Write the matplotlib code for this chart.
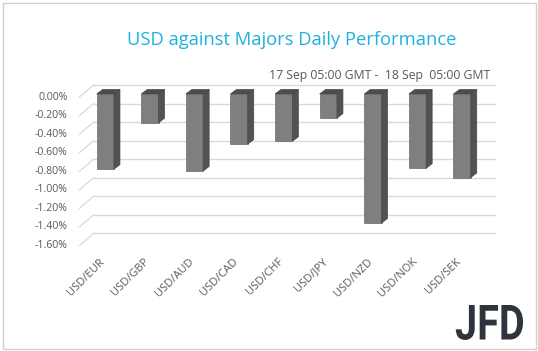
import numpy as np
import matplotlib.pyplot as plt
from matplotlib.patches import Polygon, Rectangle, PathPatch
from matplotlib.textpath import TextPath
from matplotlib.font_manager import FontProperties
from matplotlib.path import Path

# Data (percent change)
pairs = ['USD/EUR', 'USD/GBP', 'USD/AUD', 'USD/CAD', 'USD/CHF',
         'USD/JPY', 'USD/NZD', 'USD/NOK', 'USD/SEK']
changes = [-0.81, -0.31, -0.83, -0.54, -0.51, -0.26, -1.39, -0.80, -0.90]
tick_values = [0.0, -0.2, -0.4, -0.6, -0.8, -1.0, -1.2, -1.4, -1.6]
tick_labels = ['0.00%', '-0.20%', '-0.40%', '-0.60%', '-0.80%',
               '-1.00%', '-1.20%', '-1.40%', '-1.60%']

title = 'USD against Majors Daily Performance'
subtitle = '17 Sep 05:00 GMT -  18 Sep  05:00 GMT'

W, H = 538, 351
fig = plt.figure(figsize=(W / 100, H / 100), dpi=100)
ax = fig.add_axes([0, 0, 1, 1])
ax.set_axis_off()

# scale: 44.6 px per category, 92.8 px per 1 %
px_x, px_y = 44.6, 92.8
x0, y0 = 105.3, 94.0
ax.set_xlim(-x0 / px_x, (W - x0) / px_x)
ax.set_ylim((y0 - H) / px_y, y0 / px_y)

font = 'Open Sans'
grey_txt = '#595959'
grid_c = '#d9d9d9'

# 3D offsets (data units)
bar_w = 17.3 / px_x
bar_dx, bar_dy = 6 / px_x, 4.5 / px_y
back_dx, back_dy = 10.5 / px_x, 9 / px_y
front_dx, front_dy = -3.5 / px_x, -3 / px_y
x_right = (495 - x0) / px_x

# back wall gridlines and side-wall diagonals
for v in tick_values:
    ax.plot([front_dx - 0.5, back_dx - 0.5], [v + front_dy, v + back_dy],
            color=grid_c, lw=0.9, zorder=1)
    ax.plot([back_dx - 0.5, x_right], [v + back_dy, v + back_dy],
            color=grid_c, lw=1.0, zorder=1)

# y tick labels
for v, lab in zip(tick_values, tick_labels):
    ax.text((67.5 - x0) / px_x, v + front_dy, lab, ha='right', va='center',
            fontsize=7.6, color=grey_txt, family=font)

# 3D bars
for i, v in enumerate(changes):
    l, r = i - bar_w / 2, i + bar_w / 2
    ax.add_patch(Rectangle((l, v), bar_w, -v, facecolor='#7f7f7f',
                           edgecolor='#6a6a6a', lw=0.5, zorder=3))
    side = [(r, 0), (r + bar_dx, bar_dy), (r + bar_dx, v + bar_dy), (r, v)]
    ax.add_patch(Polygon(side, closed=True, facecolor='#525252',
                         edgecolor='#4a4a4a', lw=0.5, zorder=3))
    top = [(l, 0), (r, 0), (r + bar_dx, bar_dy), (l + bar_dx, bar_dy)]
    ax.add_patch(Polygon(top, closed=True, facecolor='#4d4d4d',
                         edgecolor='#474747', lw=0.5, zorder=3))

# category labels
for i, lab in enumerate(pairs):
    ax.text(i - 0.05, -1.79, lab, ha='right', va='center', rotation=45,
            rotation_mode='anchor', fontsize=8.0, color=grey_txt, family=font)

fig.text(292 / W, 1 - 40 / H, title, ha='center', va='center',
         fontsize=13.2, color='#1fb1e0', family=font)
fig.text(490 / W, 1 - 75 / H, subtitle, ha='right', va='center',
         fontsize=8.8, color=grey_txt, family=font)

# logo, stretched to fit its box (pixels: x 455-523, y 305-340 from top)
tp = TextPath((0, 0), 'JFD', size=1,
              prop=FontProperties(family='Roboto', weight='bold'))
verts = tp.vertices.copy()
mn, mx = verts.min(axis=0), verts.max(axis=0)
box_l, box_r, box_t, box_b = 455, 523, 305, 340
verts[:, 0] = (box_l + (verts[:, 0] - mn[0]) / (mx[0] - mn[0]) * (box_r - box_l)) / W
verts[:, 1] = (H - box_b + (verts[:, 1] - mn[1]) / (mx[1] - mn[1]) * (box_b - box_t)) / H
fig.patches.append(PathPatch(Path(verts, tp.codes), transform=fig.transFigure,
                             facecolor='#2e343b', edgecolor='none'))

# outer border
fig.patches.append(Rectangle((2.5 / W, 2.5 / H), (W - 5) / W, (H - 5) / H,
                             transform=fig.transFigure, fill=False,
                             edgecolor='#d0d0d0', lw=1.0))

fig.savefig('out.png', dpi=100)
